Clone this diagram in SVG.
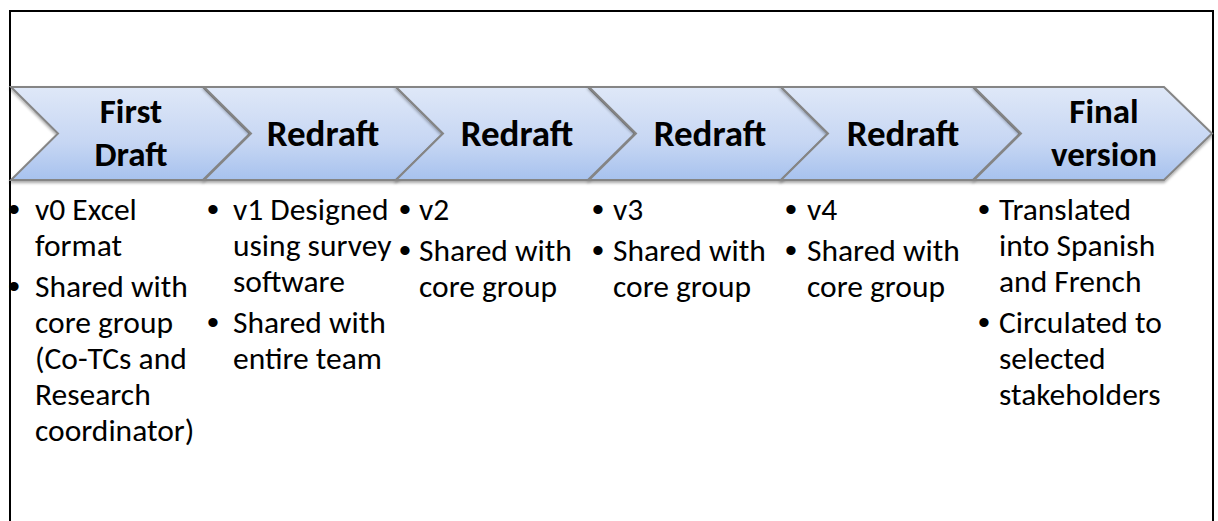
<svg xmlns="http://www.w3.org/2000/svg" width="1218" height="521" viewBox="0 0 1218 521">
<style>
.title{font-family:Carlito,Lato,"Liberation Sans",sans-serif;font-weight:bold;font-size:37px;fill:#000;text-anchor:middle}
.t2{font-size:35px}
.body{font-family:Carlito,Lato,"Liberation Sans",sans-serif;font-size:31.5px;fill:#000}
.bul{font-family:"Liberation Sans",sans-serif;font-size:34px;fill:#000;text-anchor:middle}
.chev{fill:url(#g);stroke:#858585;stroke-width:2;stroke-linejoin:miter}
</style>
<defs>
<linearGradient id="g" x1="0" y1="0" x2="0" y2="1">
<stop offset="0" stop-color="#dfe8f8"/>
<stop offset="0.6" stop-color="#c6d6f3"/>
<stop offset="1" stop-color="#a7c2ee"/>
</linearGradient>
<filter id="sh" x="-5%" y="-10%" width="110%" height="130%">
<feGaussianBlur in="SourceAlpha" stdDeviation="1.5"/>
<feOffset dy="2"/>
<feComponentTransfer><feFuncA type="linear" slope="0.35"/></feComponentTransfer>
<feMerge><feMergeNode/><feMergeNode in="SourceGraphic"/></feMerge>
</filter>
</defs>
<rect width="1218" height="521" fill="#fff"/>
<path d="M10,521 V11 H1213 V521" fill="none" stroke="#000" stroke-width="2"/>
<g id="connectors"/>
<g id="step1">
<polygon class="chev" filter="url(#sh)" points="11,87 203,87 250,133.5 203,180 11,180 58,133.5"/>
<text class="title t2" x="131" y="123">First</text>
<text class="title t2" x="131" y="166">Draft</text>
<text class="bul" x="14" y="221">•</text>
<text class="body" x="35" y="220">v0 Excel</text>
<text class="body" x="35" y="256">format</text>
<text class="bul" x="14" y="298">•</text>
<text class="body" x="35" y="297">Shared with</text>
<text class="body" x="35" y="333">core group</text>
<text class="body" x="35" y="369">(Co-TCs and</text>
<text class="body" x="35" y="405">Research</text>
<text class="body" x="35" y="441">coordinator)</text>
</g>
<g id="step2">
<polygon class="chev" filter="url(#sh)" points="204,87 396,87 443,133.5 396,180 204,180 251,133.5"/>
<text class="title" x="323" y="146">Redraft</text>
<text class="bul" x="213" y="221">•</text>
<text class="body" x="233" y="220">v1 Designed</text>
<text class="body" x="233" y="256">using survey</text>
<text class="body" x="233" y="292">software</text>
<text class="bul" x="213" y="334">•</text>
<text class="body" x="233" y="333">Shared with</text>
<text class="body" x="233" y="369">entire team</text>
</g>
<g id="step3">
<polygon class="chev" filter="url(#sh)" points="396,87 588,87 635,133.5 588,180 396,180 443,133.5"/>
<text class="title" x="517" y="146">Redraft</text>
<text class="bul" x="405" y="221">•</text>
<text class="body" x="419" y="220">v2</text>
<text class="bul" x="405" y="262">•</text>
<text class="body" x="419" y="261">Shared with</text>
<text class="body" x="419" y="297">core group</text>
</g>
<g id="step4">
<polygon class="chev" filter="url(#sh)" points="589,87 781,87 828,133.5 781,180 589,180 636,133.5"/>
<text class="title" x="710" y="146">Redraft</text>
<text class="bul" x="598" y="221">•</text>
<text class="body" x="613" y="220">v3</text>
<text class="bul" x="598" y="262">•</text>
<text class="body" x="613" y="261">Shared with</text>
<text class="body" x="613" y="297">core group</text>
</g>
<g id="step5">
<polygon class="chev" filter="url(#sh)" points="781,87 973,87 1020,133.5 973,180 781,180 828,133.5"/>
<text class="title" x="903" y="146">Redraft</text>
<text class="bul" x="791" y="221">•</text>
<text class="body" x="807" y="220">v4</text>
<text class="bul" x="791" y="262">•</text>
<text class="body" x="807" y="261">Shared with</text>
<text class="body" x="807" y="297">core group</text>
</g>
<g id="step6">
<polygon class="chev" filter="url(#sh)" points="974,87 1164,87 1212,133.5 1164,180 974,180 1021,133.5"/>
<text class="title t2" x="1104" y="123">Final</text>
<text class="title t2" x="1104" y="166">version</text>
<text class="bul" x="984" y="221">•</text>
<text class="body" x="999" y="220">Translated</text>
<text class="body" x="999" y="256">into Spanish</text>
<text class="body" x="999" y="292">and French</text>
<text class="bul" x="984" y="334">•</text>
<text class="body" x="999" y="333">Circulated to</text>
<text class="body" x="999" y="369">selected</text>
<text class="body" x="999" y="405">stakeholders</text>
</g>
</svg>
